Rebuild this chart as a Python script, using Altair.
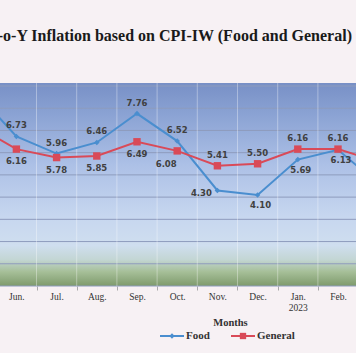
import altair as alt
import pandas as pd

# ---- data ----
months = ["May", "Jun.", "Jul.", "Aug.", "Sep.", "Oct.", "Nov.", "Dec.", "Jan.", "Feb.", "Mar."]
year_under = {"Jan.": "2023"}
food = [8.7, 6.73, 5.96, 6.46, 7.76, 6.52, 4.30, 4.10, 5.69, 6.13, 4.6]
general = [7.2, 6.16, 5.78, 5.85, 6.49, 6.08, 5.41, 5.50, 6.16, 6.16, 5.6]
series = ["Food", "General"]
colors = ["#4a8ecf", "#d94a58"]
shapes = ["diamond", "square"]
y_ticks = list(range(0, 10))

rows = []
for i, m in enumerate(months):
    rows.append(dict(idx=i, month=m, series="Food", value=food[i]))
    rows.append(dict(idx=i, month=m, series="General", value=general[i]))
df = pd.DataFrame(rows)

W, H = 356, 200
x_dom = [0.592, 9.448]
xs = alt.Scale(domain=x_dom, nice=False, zero=False)
ys = alt.Scale(domain=[0, 9], nice=False, zero=False)
cs = alt.Scale(domain=series, range=colors)

visible = [i for i in range(len(months)) if x_dom[0] < i < x_dom[1]]
bounds = [i + 0.5 for i in range(len(months) - 1) if x_dom[0] < i + 0.5 < x_dom[1]]
label_js = "[" + ",".join(
    ("['%s','%s']" % (m, year_under[m])) if m in year_under else "'%s'" % m for m in months
) + "]"

serif = "Liberation Serif"

# background gradient of the plot
grad = alt.LinearGradient(
    gradient="linear", x1=0, y1=0, x2=0, y2=1,
    stops=[
        alt.GradientStop(color="#7890c6", offset=0),
        alt.GradientStop(color="#8aa2d3", offset=0.15),
        alt.GradientStop(color="#acc0e6", offset=0.4),
        alt.GradientStop(color="#c6d6ef", offset=0.65),
        alt.GradientStop(color="#cfdeef", offset=0.8),
        alt.GradientStop(color="#c3d6d4", offset=0.87),
        alt.GradientStop(color="#a6bf98", offset=0.93),
        alt.GradientStop(color="#7e9a6c", offset=1.0),
    ],
)
bg = alt.Chart(pd.DataFrame({"a": [0]})).mark_rect(fill=grad).encode(
    x=alt.value(0), x2=alt.value(W), y=alt.value(-3), y2=alt.value(H)
)

hgrid = alt.Chart(pd.DataFrame({"v": y_ticks})).mark_rule(color="#8e9cbd", strokeWidth=1).encode(
    y=alt.Y("v:Q", scale=ys, axis=None), x=alt.value(0), x2=alt.value(W)
)
vgrid = alt.Chart(pd.DataFrame({"b": bounds})).mark_rule(color="white", opacity=0.35, strokeWidth=1).encode(
    x=alt.X("b:Q", scale=xs, axis=alt.Axis(orient="bottom", values=bounds, labels=False, ticks=True,
                                           tickSize=4, tickColor="#a8a8a8", domain=False, grid=False,
                                           title=None)),
    y=alt.value(-3), y2=alt.value(H)
)

base = alt.Chart(df)

lines = base.mark_line(strokeWidth=2).encode(
    x=alt.X("idx:Q", scale=xs, axis=alt.Axis(
        orient="bottom",
        values=visible, labelExpr=label_js + "[datum.value]", ticks=False, domain=False, grid=False,
        labelFont=serif, labelFontSize=9.5, labelColor="#333333", labelPadding=5, labelLineHeight=11,
        labelOverlap=False, labelFlush=False,
        title="Months", titleFont=serif, titleFontSize=10.5, titleFontWeight="bold", titleColor="#333333",
        titleX=230, titleY=36, titleBaseline="middle", titleAlign="center")),
    y=alt.Y("value:Q", scale=ys, axis=None),
    color=alt.Color("series:N", scale=cs, legend=None),
)

def pts(name, shape, size):
    return base.transform_filter(alt.datum.series == name).mark_point(
        filled=True, opacity=1, shape=shape, size=size
    ).encode(
        x=alt.X("idx:Q", scale=xs, axis=None),
        y=alt.Y("value:Q", scale=ys, axis=None),
        color=alt.Color("series:N", scale=cs, legend=None),
    )

def labels(name, sel, dx, dy):
    return base.transform_filter(alt.datum.series == name).transform_filter(
        alt.FieldOneOfPredicate(field="month", oneOf=sel)
    ).mark_text(font="DejaVu Sans", fontWeight="bold", fontSize=8.5, color="#404040", dx=dx, dy=dy).encode(
        x=alt.X("idx:Q", scale=xs, axis=None),
        y=alt.Y("value:Q", scale=ys, axis=None),
        text=alt.Text("value:Q", format=".2f"),
    )

texts = [
    labels("Food", ["Jun.", "Jul.", "Aug.", "Sep.", "Oct."], 0, -11),
    labels("Food", ["Dec.", "Jan.", "Feb."], 3, 10),
    labels("Food", ["Nov."], -16, 3),
    labels("General", ["Jun.", "Jul.", "Aug.", "Sep."], 0, 12),
    labels("General", ["Oct."], -11, 13),
    labels("General", ["Nov.", "Dec.", "Jan.", "Feb."], 0, -11),
]

# legend (below the axis title), one entry per series
legend_layers = []
leg_y = 250
leg_x0 = 160
for k, name in enumerate(series):
    x0 = leg_x0 + k * 71
    ent = alt.Chart(pd.DataFrame({"series": [name]}))
    legend_layers.append(ent.mark_rule(color=colors[k], strokeWidth=2).encode(
        x=alt.value(x0), x2=alt.value(x0 + 24), y=alt.value(leg_y)))
    legend_layers.append(ent.mark_point(filled=True, opacity=1, shape=shapes[k],
                                        size=[28, 40][k], color=colors[k]).encode(
        x=alt.value(x0 + 12), y=alt.value(leg_y)))
    legend_layers.append(ent.mark_text(align="left", baseline="middle", font=serif, fontWeight="bold",
                                       fontSize=11, color="#333333").encode(
        x=alt.value(x0 + 26), y=alt.value(leg_y), text="series:N"))

chart = alt.layer(
    bg, hgrid, vgrid, lines, pts("Food", "diamond", 30), pts("General", "square", 55), *texts,
    *legend_layers
).resolve_axis(x="independent").properties(
    width=W, height=H,
    autosize=alt.AutoSizeParams(type="none"),
    padding={"left": 0, "top": 86, "right": 0, "bottom": 67},
    background="#f7f1f4",
    title=alt.TitleParams(
        "Y-o-Y Inflation based on CPI-IW (Food and General)", anchor="end", frame="group",
        dx=-4, offset=31, baseline="middle", font=serif, fontSize=16, fontWeight="bold", color="#1a1a1a"),
).configure_view(stroke=None)

chart.save("out.html", embed_options={"renderer": "svg", "actions": False})
